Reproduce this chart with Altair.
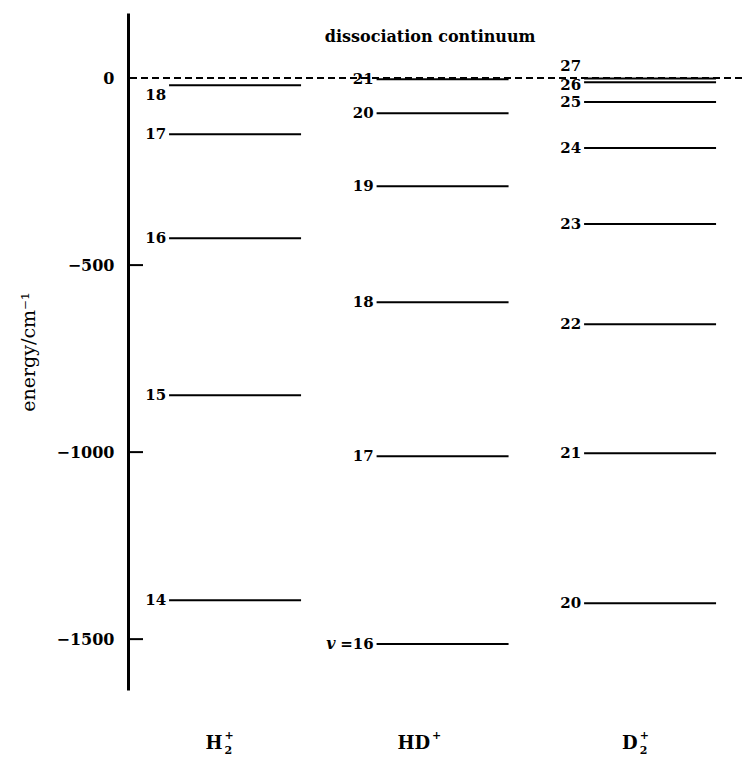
import altair as alt
import pandas as pd

# ---- data ----
species = ["H2+", "HD+", "D2+"]
h2_v = [18, 17, 16, 15, 14]
h2_E = [-19, -150, -428, -848, -1396]
hd_v = [21, 20, 19, 18, 17, 16]
hd_E = [-3, -94, -289, -599, -1011, -1513]
d2_v = [27, 26, 25, 24, 23, 22, 21, 20]
d2_E = [-1, -11, -64, -187, -390, -658, -1003, -1404]
axis_ticks = [0, -500, -1000, -1500]
species_main = ["H", "HD", "D"]
species_sup = ["+", "+", "+"]
species_sub = ["2", "", "2"]
annotation = ["dissociation continuum"]

rows = []
for i, (vs, Es) in enumerate([(h2_v, h2_E), (hd_v, hd_E), (d2_v, d2_E)]):
    for v, E in zip(vs, Es):
        rows.append({"species": species[i], "idx": i, "v": v, "E": E})
levels = pd.DataFrame(rows)
levels["lab"] = levels["v"].astype(str)
levels.loc[(levels.species == "HD+") & (levels.v == 16), "lab"] = "=16"

sp = pd.DataFrame({"idx": [0, 1, 2], "main": species_main,
                   "sup": species_sup, "sub": species_sub})

W, H = 614, 677
HALF = 0.318
FONT = "DejaVu Serif"

xs = alt.Scale(domain=[-0.516, 2.443])
ys = alt.Scale(domain=[-1636, 174])

base = alt.Chart(levels)

yaxis = alt.Axis(values=axis_ticks, format="d", ticks=False, grid=False, domainColor="black",
                 domainWidth=3, labelFont=FONT, labelFontSize=16, labelFontWeight="bold",
                 labelColor="black", labelPadding=14, title="energy/cm\u207b\u00b9",
                 titleFont=FONT, titleFontSize=19, titleFontWeight="normal",
                 titleColor="black", titlePadding=18)

lines = base.transform_calculate(x1=f"datum.idx - {HALF}", x2=f"datum.idx + {HALF}").mark_rule(
    color="black", strokeWidth=2).encode(
    x=alt.X("x1:Q", scale=xs, axis=None),
    x2="x2:Q",
    y=alt.Y("E:Q", scale=ys, axis=yaxis),
)

def labels(filt, dy=0):
    return base.transform_filter(filt).transform_calculate(
        xl=f"datum.idx - {HALF}").mark_text(
        align="right", baseline="middle", dx=-3, dy=dy, font=FONT,
        fontSize=15, fontWeight="bold", color="black").encode(
        x=alt.X("xl:Q", scale=xs, axis=None), y=alt.Y("E:Q", scale=ys), text="lab:N")

special = ("(datum.species=='H2+' && datum.v==18) || (datum.species=='D2+' && datum.v==27)"
           " || (datum.species=='D2+' && datum.v==26)")
lab_norm = labels(f"!({special})")
lab_h18 = labels("datum.species=='H2+' && datum.v==18", dy=10)
lab_d27 = labels("datum.species=='D2+' && datum.v==27", dy=-12)
lab_d26 = labels("datum.species=='D2+' && datum.v==26", dy=3)

v_italic = base.transform_filter("datum.species=='HD+' && datum.v==16").transform_calculate(
    xl=f"datum.idx - {HALF}").mark_text(
    align="right", baseline="middle", dx=-41, font=FONT, fontSize=16,
    fontStyle="italic", fontWeight="bold", color="black").encode(
    x=alt.X("xl:Q", scale=xs, axis=None), y=alt.Y("E:Q", scale=ys), text=alt.value("v"))

zero = alt.Chart(pd.DataFrame({"E": [0]})).mark_rule(
    color="black", strokeWidth=2, strokeDash=[7, 4]).encode(
    y=alt.Y("E:Q", scale=ys), x=alt.value(2), x2=alt.value(W))

tickrules = alt.Chart(pd.DataFrame({"E": axis_ticks[1:]})).mark_rule(
    color="black", strokeWidth=2).encode(
    y=alt.Y("E:Q", scale=ys), x=alt.value(0), x2=alt.value(15))

ann = alt.Chart(pd.DataFrame({"t": annotation, "x": [0.94], "E": [110]})).mark_text(
    font=FONT, fontSize=16, fontWeight="bold", color="black", baseline="middle").encode(
    x=alt.X("x:Q", scale=xs, axis=None), y=alt.Y("E:Q", scale=ys), text="t:N")

spb = alt.Chart(sp).transform_calculate(xl="datum.idx - 0.06")
sp_main = spb.mark_text(align="right", baseline="middle", font=FONT, fontSize=18,
                        fontWeight="bold", color="black").encode(
    x=alt.X("xl:Q", scale=xs, axis=None), y=alt.value(H + 54), text="main:N")
sp_sup = spb.mark_text(align="left", baseline="middle", dx=2, font=FONT, fontSize=11,
                       fontWeight="bold", color="black").encode(
    x=alt.X("xl:Q", scale=xs, axis=None), y=alt.value(H + 46), text="sup:N")
sp_sub = spb.mark_text(align="left", baseline="middle", dx=2, font=FONT, fontSize=11,
                       fontWeight="bold", color="black").encode(
    x=alt.X("xl:Q", scale=xs, axis=None), y=alt.value(H + 61), text="sub:N")

chart = alt.layer(lines, zero, tickrules, lab_norm, lab_h18, lab_d27, lab_d26, v_italic,
                  ann, sp_main, sp_sup, sp_sub).properties(
    width=W, height=H,
    background="white",
    autosize=alt.AutoSizeParams(type="none"),
    padding={"left": 120, "top": 5, "right": 0, "bottom": 70},
).configure_view(strokeWidth=0, stroke="transparent").configure_axis(grid=False)

chart.save("out.html", embed_options={"renderer": "svg", "actions": False})
